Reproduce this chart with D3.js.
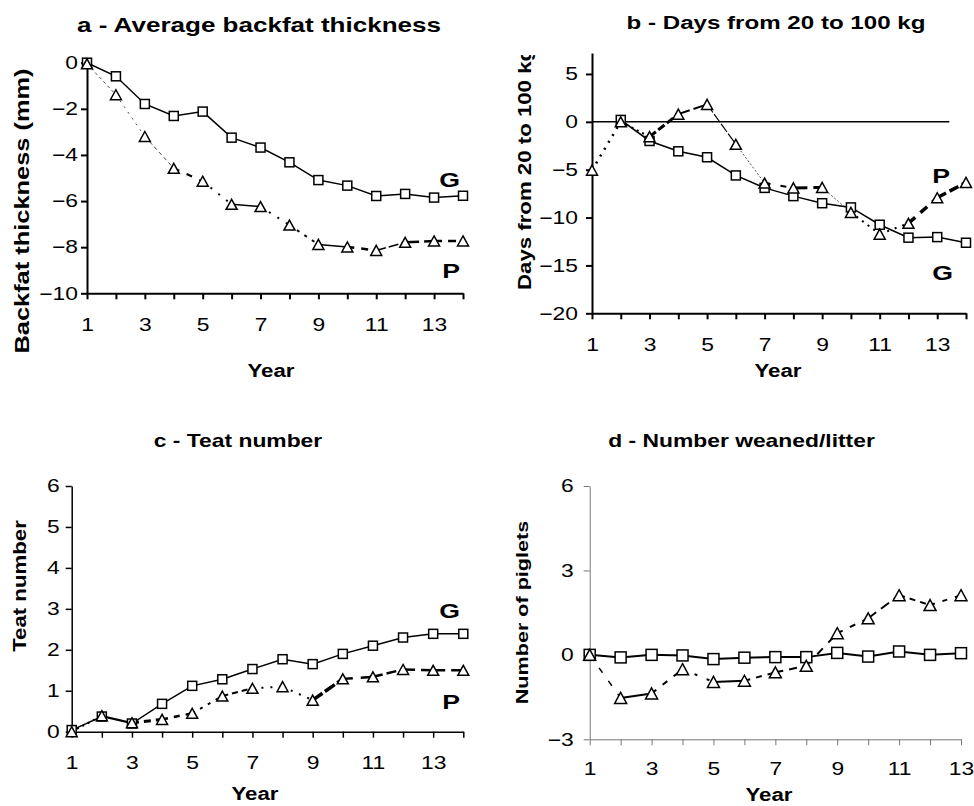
<!DOCTYPE html>
<html>
<head>
<meta charset="utf-8">
<script src="https://cdn.jsdelivr.net/npm/d3@7"></script>
<style>
  body { margin: 0; background: #fff; }
  svg { display: block; font-family: Arial, "Liberation Sans", sans-serif; }
</style>
</head>
<body>
<svg id="chart" width="974" height="806"></svg>
<script>
// ── Data ──
const years14 = [1, 2, 3, 4, 5, 6, 7, 8, 9, 10, 11, 12, 13, 14];
const years13 = [1, 2, 3, 4, 5, 6, 7, 8, 9, 10, 11, 12, 13];
const xTickLabels = [1, 3, 5, 7, 9, 11, 13];

const backfatG = [0, -0.59, -1.79, -2.31, -2.12, -3.25, -3.68, -4.32, -5.09, -5.33, -5.78, -5.69, -5.85, -5.77];
const backfatP = [-0.05, -1.39, -3.2, -4.58, -5.14, -6.14, -6.24, -7.04, -7.88, -7.99, -8.14, -7.79, -7.73, -7.73];

const daysG = [null, 0.2, -2.0, -3.08, -3.7, -5.6, -6.9, -7.76, -8.5, -8.94, -10.75, -12.1, -12.04, -12.63];
const daysP = [-5.05, 0, -1.55, 0.8, 1.82, -2.35, -6.4, -6.9, -6.85, -9.46, -11.73, -10.6, -7.93, -6.33];

const teatG = [0.04, 0.37, 0.2, 0.68, 1.12, 1.28, 1.53, 1.77, 1.65, 1.9, 2.1, 2.3, 2.39, 2.39];
const teatP = [0, 0.39, 0.22, 0.3, 0.45, 0.87, 1.06, 1.1, 0.77, 1.29, 1.34, 1.52, 1.5, 1.5];

const weanedG = [0, -0.09, 0, -0.02, -0.15, -0.1, -0.08, -0.08, 0.07, -0.06, 0.12, 0, 0.06];
const weanedP = [0, -1.53, -1.37, -0.51, -0.96, -0.92, -0.62, -0.39, 0.77, 1.3, 2.12, 1.77, 2.12];

// line style of each P segment: [width, dasharray]
const segStyleA = [[0.7,'3,3'],[0.7,'2,5'],[0.7,'4,3'],[2,'6,8'],[2,'2,8'],[1.5,null],[2,'2,8'],
  [2,'3,6'],[1.5,null],[2.5,'7,7'],[1.5,'10,3'],[2.5,'14,5'],[2.5,'8,6']];
const segStyleB = [[2.5,'2,6'],[2,'2,4'],[3,'8,3'],[2,'12,4'],[1.2,'10,2'],[0.7,'2,2'],[2,'6,10'],
  [3,'14,6'],[0.7,'2,2'],[2,'2,5'],[2,'2,6'],[3.5,'9,7'],[3.5,'10,4']];
const segStyleC = [[2,'2,4'],[1.5,null],[3,'7,5'],[2.5,'6,6'],[2,'3,6'],[2,'6,4'],[2,'2,7'],
  [2,'2,7'],[3.5,'12,3'],[2.5,'10,8'],[2.5,'10,4'],[2.5,'12,6'],[2.5,'12,6']];
const segStyleD = [[1.5,'6,10'],[2,null],[2,'6,8'],[2,'3,10'],[2,null],[2,'6,6'],[2,'8,6'],
  [2,'8,8'],[2,'6,8'],[2,'10,6'],[2,'6,5'],[2,'5,8']];

const SX = 1.27;   // text in the source is drawn wider than Arial
const svg = d3.select('#chart');

function addText(g, x, y, str, size, anchor, rot) {
  return g.append('text')
    .attr('transform', `translate(${x},${y})${rot ? ' rotate(-90)' : ''} scale(${SX},1)`)
    .attr('text-anchor', anchor)
    .attr('font-weight', 'bold')
    .style('font-size', size + 'px')
    .text(str);
}

function drawPanel(p) {
  const x = d3.scaleLinear().domain(d3.extent(p.years)).range(p.xRange);
  const y = d3.scaleLinear().domain(p.yDomain).range(p.yRange);
  const g = svg.append('g');

  // Axes
  const xAxis = g.append('g')
    .attr('transform', `translate(0,${y(p.yDomain[0])})`)
    .call(d3.axisBottom(x).tickValues(p.years)
      .tickFormat(d => xTickLabels.includes(d) ? d : '')
      .tickSize(6).tickSizeOuter(0).tickPadding(p.xPad));
  const yAxis = g.append('g')
    .attr('transform', `translate(${x(p.years[0])},0)`)
    .call(d3.axisLeft(y).tickValues(p.yTicks).tickFormat(d3.format('d'))
      .tickSize(6).tickSizeOuter(0).tickPadding(p.yPad));

  [xAxis, yAxis].forEach(a => {
    a.select('.domain').attr('stroke', p.axisColor).attr('stroke-width', p.axisWidth);
    a.selectAll('.tick line').attr('stroke', p.axisColor).attr('stroke-width', p.axisWidth);
    a.selectAll('text').attr('fill', '#000')
      .style('font-size', p.tickFont + 'px')
      .style('font-family', 'Arial, "Liberation Sans", sans-serif');
  });
  xAxis.selectAll('text').attr('transform', `scale(${SX},1)`);
  yAxis.selectAll('text').each(function() {
    const t = d3.select(this);
    const tx = +t.attr('x');
    t.attr('x', 0).attr('transform', `translate(${tx},0) scale(${SX},1)`);
  });

  // Zero reference line (panel b)
  if (p.zeroEnd) {
    g.append('line')
      .attr('x1', x(p.years[0])).attr('x2', x(p.zeroEnd))
      .attr('y1', y(0)).attr('y2', y(0))
      .attr('stroke', '#000').attr('stroke-width', 1.5);
  }

  const ptsG = p.years.map((yr, i) => [yr, p.g[i]]);
  const ptsP = p.years.map((yr, i) => [yr, p.p[i]]);
  const line = d3.line().defined(d => d[1] != null).x(d => x(d[0])).y(d => y(d[1]));

  // G line
  g.append('path').datum(ptsG)
    .attr('d', line).attr('fill', 'none')
    .attr('stroke', '#000').attr('stroke-width', p.gWidth);

  // P line, one segment at a time
  for (let i = 0; i < ptsP.length - 1; i++) {
    const s = p.seg[i];
    g.append('path').datum([ptsP[i], ptsP[i + 1]])
      .attr('d', line).attr('fill', 'none')
      .attr('stroke', '#000').attr('stroke-width', s[0])
      .attr('stroke-dasharray', s[1]);
  }

  // Markers
  const sq = p.sq;
  g.selectAll('.sq').data(ptsG.filter(d => d[1] != null)).enter().append('rect')
    .attr('x', d => x(d[0]) - sq / 2).attr('y', d => y(d[1]) - sq / 2)
    .attr('width', sq).attr('height', sq)
    .attr('fill', '#fff').attr('stroke', '#000').attr('stroke-width', 1.5);
  const tw = p.triW, th = p.triH;
  g.selectAll('.tri').data(ptsP).enter().append('path')
    .attr('d', d => {
      const cx = x(d[0]), cy = y(d[1]);
      return `M${cx},${cy - th / 2}L${cx + tw / 2},${cy + th / 2}L${cx - tw / 2},${cy + th / 2}Z`;
    })
    .attr('fill', '#fff').attr('stroke', '#000').attr('stroke-width', 1.5);

  // Texts
  addText(g, p.title[1], p.title[2], p.title[0], p.title[3], 'middle');
  addText(g, p.xTitle[0], p.xTitle[1], 'Year', p.xTitle[2], 'middle');
  let labelG = g;
  if (p.yClip) {
    svg.append('clipPath').attr('id', 'clipB').append('rect')
      .attr('x', 0).attr('y', p.yClip).attr('width', 974).attr('height', 806);
    labelG = g.append('g').attr('clip-path', 'url(#clipB)');
  }
  addText(labelG, p.yTitle[1], p.yTitle[2], p.yTitle[0], p.yTitle[3], p.yTitle[4], true)
    .attr('dy', '0.36em');
  (p.tags || []).forEach(t => addText(g, t[1], t[2], t[0], 21, 'end'));
}

// ── a - Average backfat thickness ──
drawPanel({
  years: years14, g: backfatG, p: backfatP, seg: segStyleA,
  xRange: [87, 463], yDomain: [-10, 0], yRange: [293.3, 62.7],
  yTicks: [-10, -8, -6, -4, -2, 0], xPad: 19, yPad: 3,
  axisColor: '#000', axisWidth: 2, tickFont: 18, gWidth: 1.5,
  sq: 9, triW: 11, triH: 10,
  title: ['a - Average backfat thickness', 259, 32, 20.5],
  xTitle: [271, 377, 17.5],
  yTitle: ['Backfat thickness (mm)', 22, 211, 20, 'middle'],
  tags: [['G', 460, 187], ['P', 460, 278]]
});

// ── b - Days from 20 to 100 kg ──
drawPanel({
  years: years14, g: daysG, p: daysP, seg: segStyleB,
  xRange: [592, 966], yDomain: [-20, 7.2], yRange: [313.3, 52.9],
  yTicks: [-20, -15, -10, -5, 0, 5], xPad: 19, yPad: 8,
  axisColor: '#000', axisWidth: 2, tickFont: 18, gWidth: 1.5,
  sq: 9, triW: 11, triH: 10, zeroEnd: 13.42,
  title: ['b - Days from 20 to 100 kg', 776, 28.5, 19],
  xTitle: [778, 377, 17.5],
  yTitle: ['Days from 20 to 100 kg', 525, 290, 17.5, 'start'], yClip: 55,
  tags: [['P', 950, 183], ['G', 953, 280]]
});

// ── c - Teat number ──
drawPanel({
  years: years14, g: teatG, p: teatP, seg: segStyleC,
  xRange: [71.7, 463.3], yDomain: [0, 6], yRange: [731.7, 486],
  yTicks: [0, 1, 2, 3, 4, 5, 6], xPad: 19, yPad: 6,
  axisColor: '#000', axisWidth: 1.5, tickFont: 18, gWidth: 1.5,
  sq: 9, triW: 11, triH: 10,
  title: ['c - Teat number', 238, 447, 18],
  xTitle: [255, 800, 17.5],
  yTitle: ['Teat number', 20, 586, 17.5, 'middle'],
  tags: [['G', 460, 618], ['P', 460, 709]]
});

// ── d - Number weaned/litter ──
drawPanel({
  years: years13, g: weanedG, p: weanedP, seg: segStyleD,
  xRange: [589.7, 961], yDomain: [-3, 6], yRange: [739.3, 486],
  yTicks: [-3, 0, 3, 6], xPad: 17, yPad: 10,
  axisColor: '#777', axisWidth: 1, tickFont: 18, gWidth: 2,
  sq: 11, triW: 12, triH: 11,
  title: ['d - Number weaned/litter', 741.5, 447, 18],
  xTitle: [769, 801, 17.5],
  yTitle: ['Number of piglets', 522, 612.5, 17, 'middle']
});
</script>
</body>
</html>
